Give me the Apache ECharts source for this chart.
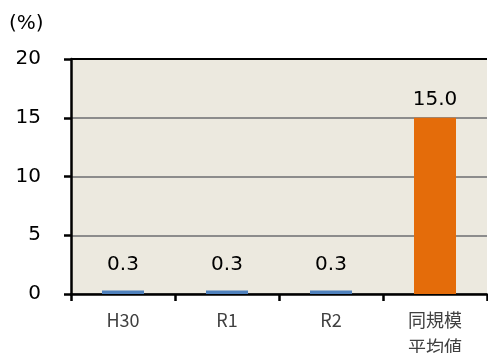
<!DOCTYPE html>
<html>
<head>
<meta charset="utf-8">
<script src="https://cdn.jsdelivr.net/npm/echarts@6/dist/echarts.min.js"></script>
<style>
  html, body { margin: 0; padding: 0; background: #fff; }
  #chart { width: 488px; height: 353px; }
</style>
</head>
<body>
<div id="chart"></div>
<script>
// Categories and values
const categories = ['H30', 'R1', 'R2', '同規模\n平均値'];
const values = [0.3, 0.3, 0.3, 15.0];
const barColors = ['#4F81BD', '#4F81BD', '#4F81BD', '#E46C0A'];
const yTicks = [0, 5, 10, 15, 20];

const numFont = '"DejaVu Sans", Verdana, sans-serif';
const cjkFont = '"Noto Sans CJK JP", "Noto Sans", sans-serif';
const chart = echarts.init(document.getElementById('chart'));

chart.setOption({
  animation: false,
  textStyle: { fontFamily: numFont },
  graphic: [{
    type: 'text', left: 9, top: 14,
    style: { text: '(%)', font: '20px ' + numFont, fill: '#000' }
  }],
  grid: {
    left: 71, right: 1, top: 59, bottom: 59,
    outerBoundsMode: 'none', containLabel: false,
    show: true, backgroundColor: '#ECE9DF', borderWidth: 0
  },
  xAxis: {
    type: 'category',
    data: categories,
    axisLine: { lineStyle: { color: '#000', width: 2.5 } },
    axisTick: { show: true, length: 7, lineStyle: { color: '#000', width: 2.5 } },
    axisLabel: { color: '#404040', fontSize: 18, margin: 13, lineHeight: 27, fontFamily: cjkFont }
  },
  yAxis: {
    type: 'value',
    min: yTicks[0], max: yTicks[yTicks.length - 1], interval: 5,
    axisLine: { show: true, lineStyle: { color: '#000', width: 2.5 } },
    axisTick: { show: true, length: 7, lineStyle: { color: '#000', width: 2.5 } },
    axisLabel: { color: '#000', fontSize: 20, margin: 30, padding: [0, 0, 6, 0], fontFamily: numFont },
    splitLine: {
      show: true,
      lineStyle: { color: ['#8C8C8C', '#8C8C8C', '#8C8C8C', '#8C8C8C', '#000'], width: 2 }
    }
  },
  series: [{
    type: 'bar',
    barWidth: 42,
    data: values.map((v, i) => ({
      value: v,
      itemStyle: { color: barColors[i] },
      label: { distance: v < 1 ? 16 : 8 }
    })),
    label: {
      show: true, position: 'top',
      color: '#000', fontSize: 20, fontFamily: numFont,
      formatter: p => p.value.toFixed(1)
    }
  }]
});
</script>
</body>
</html>
